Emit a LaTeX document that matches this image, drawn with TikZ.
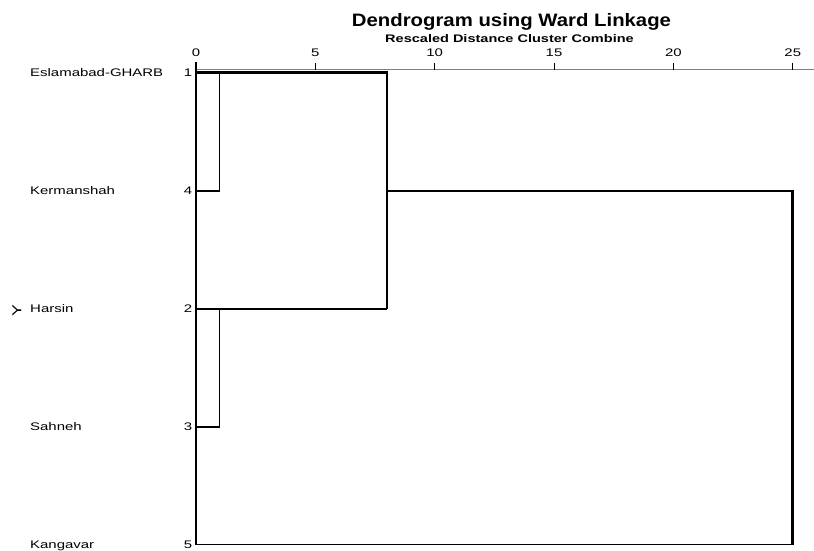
\documentclass[tikz,border=0pt]{standalone}
\usepackage{fontspec}
\setmainfont{Liberation Sans}
\newfontfamily\labfont{Liberation Sans}[FakeStretch=1.36]
\newfontfamily\titlefont{Liberation Sans}[FakeStretch=1.13]
\newfontfamily\subfont{Liberation Sans}[FakeStretch=1.32]
\usetikzlibrary{calc}
% distance (0..25) to picture x
\newcommand{\dpos}[1]{196+23.87*#1}

\begin{document}
\begin{tikzpicture}[x=1pt,y=-1pt,
    lbl/.style={font=\labfont\fontsize{11}{12}\selectfont,inner sep=0pt,text depth=0pt},
    fine/.style={line width=1.2pt},
    heavy/.style={line width=2.6pt,line join=miter}]
    \useasboundingbox (0,0) rectangle (814,550);

    \draw node at (511.5,19.5)[name=title,inner sep=0pt,text depth=0pt,
      font=\titlefont\bfseries\fontsize{18}{20}\selectfont]{Dendrogram using Ward Linkage};
    \draw node at (509.5,38.7)[name=subtitle,inner sep=0pt,text depth=0pt,
      font=\subfont\bfseries\fontsize{11}{12}\selectfont]{Rescaled Distance Cluster Combine};

    % scale on top
    \coordinate (ax0) at (196,69.5);
    \coordinate (axend) at (814,69.5);
    \draw[black!50,line width=1.8pt] (ax0) -- (axend);
    \draw node at (196,53)[lbl,name=t0]{0};
    \foreach \d in {5,10,...,25} {
      \draw node at ({\dpos{\d}},53)[lbl,name=t\d]{\d};
      \coordinate (tk\d) at ({\dpos{\d}},69.5);
      \draw[line width=1.1pt] (tk\d) -- ++(0,-7);
    }

    % cases
    \draw node at (17,311)[lbl,rotate=90,name=yax,font=\labfont\fontsize{13}{14}\selectfont]{Y};
    \foreach \n/\name/\row in {1/Eslamabad-GHARB/72.5,4/Kermanshah/191,2/Harsin/309,3/Sahneh/427,5/Kangavar/544.5} {
      \draw node at (192.5,\row)[lbl,anchor=east,name=n\n]{\n};
      \draw node at (30,\row)[lbl,anchor=west,name=lab\n]{\name};
      \coordinate (l\n) at (196,\row);
    }

    % joins
    \coordinate (a1) at ({\dpos{1}},72.5);
    \coordinate (a4) at ({\dpos{1}},191);
    \coordinate (b2) at ({\dpos{1}},309);
    \coordinate (b3) at ({\dpos{1}},427);
    \coordinate (c1) at ({\dpos{8}},72.5);
    \coordinate (c4) at ({\dpos{8}},191);
    \coordinate (c2) at ({\dpos{8}},309);
    \coordinate (d4) at ({\dpos{25}},191);
    \coordinate (d5) at ({\dpos{25}},544.5);
    \coordinate (top0) at (196,62);

    \draw[fine] (l4) -- (a4) -- (a1);
    \draw[fine] (l3) -- (b3) -- (b2);
    \draw[fine] (l2) -- (c2);
    \draw[line width=1.5pt] (l5) -- (d5);
    \draw[heavy] (l1) -- (c1) -- (c2);
    \draw[heavy] (c4) -- (d4) -- (d5);
    \draw[heavy] (top0) -- (l5);
  \end{tikzpicture}
\end{document}
